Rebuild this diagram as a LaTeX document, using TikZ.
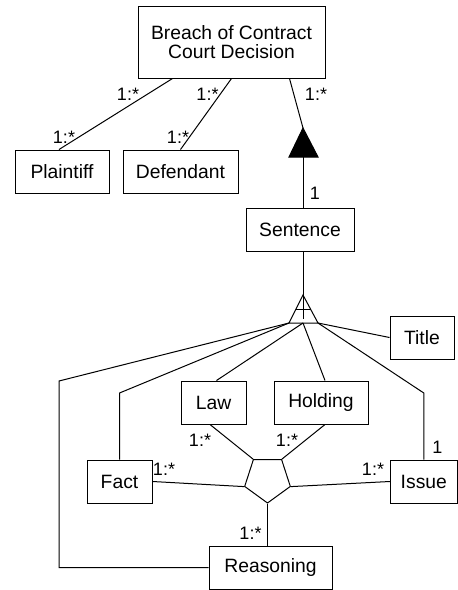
\documentclass[tikz,border=0pt]{standalone}
\usepackage{fontspec}
\setmainfont{Liberation Sans}
\usetikzlibrary{positioning,calc,shapes.geometric}
\tikzset{
  entity/.style={draw,rectangle,minimum height=43pt,inner sep=0pt,font=\fontsize{19.3}{19.5}\selectfont},
  card/.style={anchor=base,inner sep=0pt,font=\fontsize{18}{18}\selectfont},
  joint/.style={draw,regular polygon,regular polygon sides=5,shape border rotate=180,minimum size=48pt,inner sep=0pt},
}
\newcommand{\umlbox}[4]{%
  \node[entity,minimum width=#3pt] (#1) at (#2) {#4};
}
\newcommand{\card}[4]{%
  \node[card] (#1) at (#2,#3) {#4};
}

\begin{document}
\begin{tikzpicture}[x=1pt,y=-1pt,line width=1pt]
\useasboundingbox (0,0) rectangle (458,590);
\node[entity,minimum width=187pt,minimum height=72pt,align=center] (court) at (231.5,42) {Breach of Contract\\Court Decision};
\umlbox{plaintiff}{62,171.5}{94}{Plaintiff}
\umlbox{defendant}{180.5,171.5}{115}{Defendant}
\umlbox{sentence}{300,229.5}{108}{Sentence}
\umlbox{title}{422,337.5}{64}{Title}
\umlbox{law}{213.5,402.5}{65}{Law}
\umlbox{holding}{321,402.5}{94}{Holding}
\umlbox{fact}{119.5,481.5}{65}{Fact}
\umlbox{issue}{423.8,481.5}{67}{Issue}
\umlbox{reasoning}{270.5,567.5}{123}{Reasoning}
\node[joint] (join) at (267.5,479) {};

\coordinate (aggtip) at (303,128);
\coordinate (aggbase) at (303,157);
\draw[fill=black] (aggtip) -- (289,157) -- (318,157) -- cycle;
\coordinate (comptip) at (303,295);
\coordinate (comp) at (303,323);
\coordinate (compL) at (289,323);
\coordinate (compR) at (318,323);
\draw (comptip) -- (compL) -- (compR) -- cycle;
\draw (comptip) -- (303,319);
\draw (296,309) -- (311,309);

\draw ([xshift=35pt]court.south west) -- ([xshift=-3pt]plaintiff.north);
\draw (court.south) -- (defendant.north);
\draw ([xshift=-36pt]court.south east) -- (aggtip);
\draw (aggbase) -- (aggbase |- sentence.north);
\draw (sentence.south -| comptip) -- (comptip);

\draw (compL) -- (59,381) |- (reasoning.west);
\draw (compL) -- (fact.north |- 0,393) -- (fact.north);
\draw (comp) -- ([xshift=3pt]law.north);
\draw (comp) -- ([xshift=4pt]holding.north);
\draw (compR) -- (issue.north |- 0,393) -- (issue.north);
\draw (compR) -- (title.west);

\draw ([xshift=-3.5pt]law.south) -- (join.corner 4);
\draw ([xshift=4pt]holding.south) -- (join.corner 3);
\draw (fact.east) -- (join.corner 5);
\draw (issue.west) -- (join.corner 2);
\draw (join.corner 1) -- (join.corner 1 |- reasoning.north);

\card{cpt}{128}{100}{1:*}
\card{cpb}{64}{143}{1:*}
\card{cdt}{207.5}{100}{1:*}
\card{cdb}{178}{143}{1:*}
\card{cst}{316}{100}{1:*}
\card{csb}{315}{199}{1}
\card{clw}{200}{446}{1:*}
\card{chd}{287}{446}{1:*}
\card{cft}{164}{475}{1:*}
\card{cis}{373}{475}{1:*}
\card{crs}{250.5}{539}{1:*}
\card{cit}{437.5}{453}{1}
\end{tikzpicture}
\end{document}
